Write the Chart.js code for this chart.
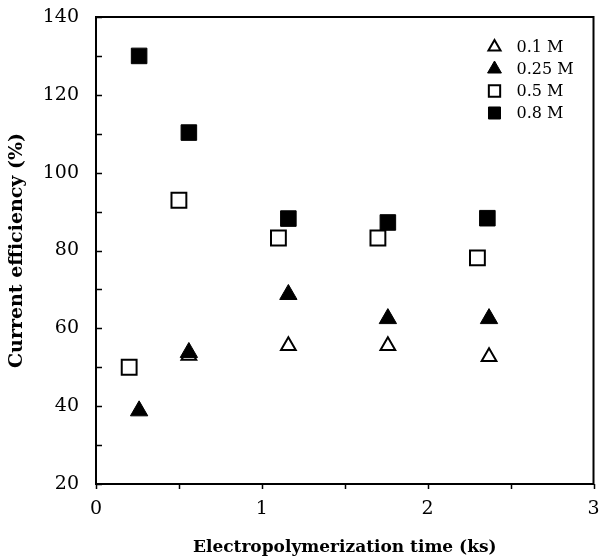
<!DOCTYPE html>
<html lang="en">
<head>
    <meta charset="UTF-8">
    <title>Current efficiency</title>
    <script src="https://cdn.jsdelivr.net/npm/chart.js"></script>
    <style>
        html, body { margin: 0; padding: 0; background: #fff; }
        #wrap { width: 606px; height: 556px; }
    </style>
</head>
<body>
    <div id="wrap"><canvas id="myChart" width="606" height="556"></canvas></div>

    <script>
        // data (time in ks, efficiency in %)
        const labels = ['0.1 M', '0.25 M', '0.5 M', '0.8 M'];
        const times01 = [0.56, 1.16, 1.76, 2.37];
        const eff01 = [53, 55.5, 55.5, 52.7];
        const times025 = [0.26, 0.56, 1.16, 1.76, 2.37];
        const eff025 = [38.8, 53.8, 68.7, 62.5, 62.5];
        const times05 = [0.2, 0.5, 1.1, 1.7, 2.3];
        const eff05 = [50, 92.9, 83.2, 83.2, 78.1];
        const times08 = [0.26, 0.56, 1.16, 1.76, 2.36];
        const eff08 = [130, 110.3, 88.2, 87.2, 88.3];

        const serif = "'DejaVu Serif', 'Liberation Serif', serif";

        function toPoints(xs, ys) {
            return xs.map((x, i) => ({ x: x, y: ys[i] }));
        }

        // marker styles, also used by the legend
        const styles = [
            { pointStyle: 'triangle', radius: 8.5, fill: 'rgba(0,0,0,0)', border: 2, legendRadius: 7 },
            { pointStyle: 'triangle', radius: 10, fill: '#000', border: 1, legendRadius: 8 },
            { pointStyle: 'rect', radius: 10.5, fill: 'rgba(0,0,0,0)', border: 2, legendRadius: 8 },
            { pointStyle: 'rect', radius: 11, fill: '#000', border: 1, legendRadius: 8.5 }
        ];
        const series = [toPoints(times01, eff01), toPoints(times025, eff025), toPoints(times05, eff05), toPoints(times08, eff08)];

        // box round the plot, ticks (y inward, x outward) and the legend
        const framePlugin = {
            id: 'frame',
            beforeDatasetsDraw(chart) {
                const ctx = chart.ctx;
                const a = chart.chartArea;
                const xs = chart.scales.x, ys = chart.scales.y;
                ctx.save();
                ctx.strokeStyle = '#000';
                ctx.lineWidth = 2;
                ctx.strokeRect(a.left, a.top, a.right - a.left, a.bottom - a.top);
                ctx.lineWidth = 1.5;
                ctx.beginPath();
                ys.ticks.forEach(t => {
                    const y = Math.round(ys.getPixelForValue(t.value)) + 0.5;
                    ctx.moveTo(a.left, y);
                    ctx.lineTo(a.left + 6, y);
                });
                xs.ticks.forEach(t => {
                    const x = Math.round(xs.getPixelForValue(t.value)) + 0.5;
                    ctx.moveTo(x, a.bottom);
                    ctx.lineTo(x, a.bottom + 5);
                });
                ctx.stroke();
                ctx.restore();
            },
            afterDraw(chart) {
                const ctx = chart.ctx;
                const a = chart.chartArea;
                ctx.save();
                ctx.font = '16px ' + serif;
                ctx.textBaseline = 'middle';
                labels.forEach((lab, i) => {
                    const s = styles[i];
                    const cx = a.right - 99;
                    const cy = a.top + 30 + i * 22;
                    ctx.fillStyle = s.fill;
                    ctx.strokeStyle = '#000';
                    ctx.lineWidth = s.border;
                    Chart.helpers.drawPoint(ctx, { pointStyle: s.pointStyle, radius: s.legendRadius, rotation: 0, borderWidth: s.border }, cx, cy);
                    ctx.fillStyle = '#000';
                    ctx.fillText(lab, cx + 22, cy + 1);
                });
                ctx.restore();
            }
        };

        const ctx = document.getElementById('myChart').getContext('2d');
        const chart = new Chart(ctx, {
            type: 'scatter',
            data: {
                datasets: series.map((pts, i) => ({
                    label: labels[i],
                    data: pts,
                    pointStyle: styles[i].pointStyle,
                    pointRadius: styles[i].radius,
                    pointHoverRadius: styles[i].radius,
                    backgroundColor: styles[i].fill,
                    borderColor: '#000',
                    borderWidth: styles[i].border
                }))
            },
            options: {
                responsive: false,
                animation: false,
                events: [],
                layout: { padding: { top: 17, right: 9, left: 0, bottom: 0 } },
                plugins: {
                    legend: { display: false },
                    tooltip: { enabled: false }
                },
                scales: {
                    x: {
                        type: 'linear',
                        min: 0,
                        max: 3,
                        grid: { display: false },
                        border: { display: false },
                        ticks: {
                            stepSize: 0.5,
                            autoSkip: false,
                            maxRotation: 0,
                            padding: 6,
                            color: '#000',
                            font: { family: serif, size: 19 },
                            callback: v => (Number.isInteger(v) ? v : '')
                        },
                        title: {
                            display: true,
                            text: 'Electropolymerization time (ks)',
                            color: '#000',
                            font: { family: serif, size: 17, weight: 'bold' },
                            padding: { top: 0, bottom: -2 }
                        },
                        afterFit: s => {
                            s.height = 72;
                            s.paddingLeft = 0;
                            s.paddingRight = 0;
                        }
                    },
                    y: {
                        min: 20,
                        max: 140,
                        grid: { display: false },
                        border: { display: false },
                        ticks: {
                            stepSize: 10,
                            autoSkip: false,
                            padding: 9,
                            color: '#000',
                            font: { family: serif, size: 19 },
                            callback: v => (v % 20 === 0 ? v : '')
                        },
                        title: {
                            display: true,
                            text: 'Current efficiency (%)',
                            color: '#000',
                            font: { family: serif, size: 19, weight: 'bold' },
                            padding: { top: 6, bottom: 0 }
                        },
                        afterFit: s => {
                            s.width = 96;
                            s.paddingTop = 0;
                            s.paddingBottom = 0;
                        }
                    }
                }
            },
            plugins: [framePlugin]
        });
    </script>
</body>
</html>
